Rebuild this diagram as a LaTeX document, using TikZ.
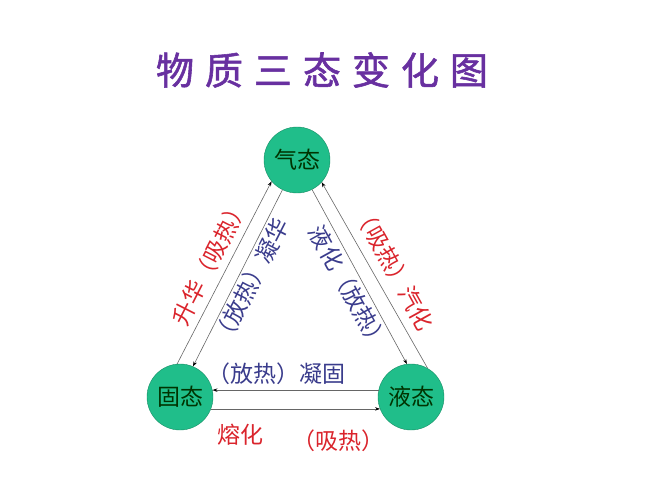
\documentclass[tikz,border=0pt]{standalone}
\usepackage{fontspec}
\usepackage{tikz}
\usetikzlibrary{arrows.meta}
\newfontfamily\cjk{Noto Sans CJK SC}
\newfontfamily\cjktitle{Noto Sans CJK SC}[FakeBold=1.5]
\definecolor{statefill}{RGB}{32,190,138}
\definecolor{stateedge}{RGB}{22,140,100}
\definecolor{heatred}{RGB}{218,36,44}
\definecolor{coolblue}{RGB}{58,60,140}
\definecolor{titlepurple}{RGB}{104,48,160}

\begin{document}
\begin{tikzpicture}[x=1pt,y=-1pt,
  state/.style={circle, draw=stateedge, fill=statefill, minimum size=66pt, inner sep=0pt, font=\cjk\fontsize{23}{23}\selectfont, text=black!80!green},
  redlbl/.style={font=\cjk\fontsize{23}{23}\selectfont, text=heatred, inner sep=0pt},
  bluelbl/.style={font=\cjk\fontsize{23}{23}\selectfont, text=coolblue, inner sep=0pt},
  arrow/.style={-{Stealth[length=5pt,width=3.5pt,color=black]}, draw=black!60, line width=0.6pt}
]
\useasboundingbox (0,0) rectangle (667,500);
\node[font=\cjktitle\fontsize{38}{38}\selectfont, text=titlepurple] (title) at (322,70)
  {物\hspace{11pt}质\hspace{11pt}三\hspace{11pt}态\hspace{11pt}变\hspace{11pt}化\hspace{11pt}图};

\node[state] (qi) at (297,160) {气态};
\node[state] (gu) at (180,397) {固态};
\node[state] (ye) at (411,397) {液态};

\draw[arrow] (gu.95) -- (qi.220);
\draw[arrow] (qi.244) -- (gu.67);
\draw[arrow] (qi.297) -- (ye.97);
\draw[arrow] (ye.60) -- (qi.318);
\draw[arrow] (ye.168) -- (gu.12);
\draw[arrow] (gu.-21) -- (ye.201);

% labels along the sides
\node[redlbl, rotate=63] (shenghua) at (210,262) {升华（吸热）};
\node[bluelbl, rotate=63] (ninghua) at (251,282) {（放热）凝华};
\node[bluelbl, rotate=-61] (yehua) at (349,288) {液化（放热）};
\node[redlbl, rotate=-61] (qihua) at (394,268) {（吸热）汽化};
\node[bluelbl] (ninggu) at (276,374) {（放热）凝固};
\node[redlbl] (ronghua) at (240,435) {熔化};
\node[redlbl] (xire) at (338,441) {（吸热）};
\end{tikzpicture}
\end{document}
